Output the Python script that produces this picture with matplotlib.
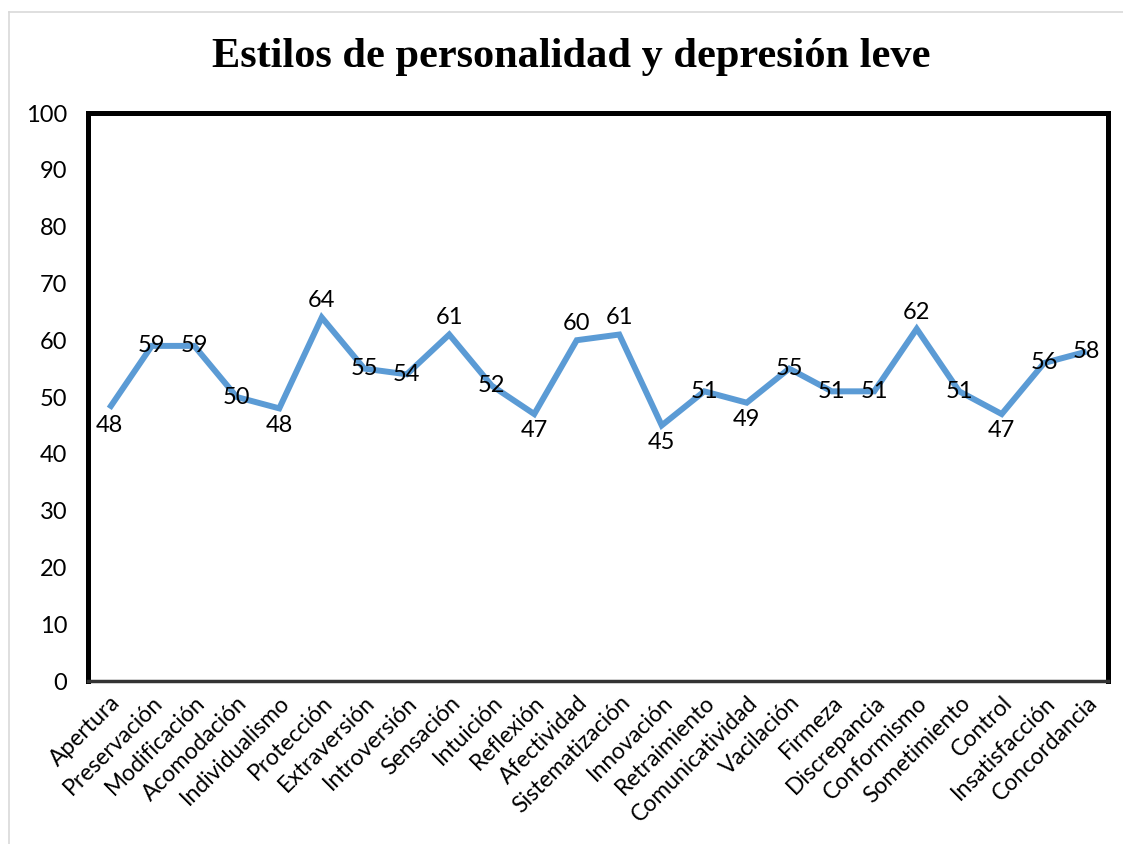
import matplotlib
matplotlib.use("Agg")
from matplotlib import pyplot as plt
from matplotlib.lines import Line2D

categorias = [
    "Apertura", "Preservación", "Modificación", "Acomodación", "Individualismo",
    "Protección", "Extraversión", "Introversión", "Sensación", "Intuición",
    "Reflexión", "Afectividad", "Sistematización", "Innovación", "Retraimiento",
    "Comunicatividad", "Vacilación", "Firmeza", "Discrepancia", "Conformismo",
    "Sometimiento", "Control", "Insatisfacción", "Concordancia",
]
valores = [48, 59, 59, 50, 48, 64, 55, 54, 61, 52, 47, 60, 61, 45, 51, 49,
           55, 51, 51, 62, 51, 47, 56, 58]
# where each data label sits: c = on the point, a = above, b = below
posicion = ["b", "c", "c", "c", "b", "a", "c", "c", "a", "c", "b", "a", "a",
            "b", "c", "b", "c", "c", "c", "a", "c", "b", "c", "c"]
y_ticks = list(range(0, 101, 10))

azul = "#5B9BD5"
fuente = ["Lato", "DejaVu Sans"]

fig = plt.figure(figsize=(11.23, 8.44), dpi=100)
ax = fig.add_axes([0.0784, 0.1931, 0.9082, 0.673])

x = list(range(len(categorias)))
ax.plot(x, valores, color=azul, linewidth=4.3, solid_joinstyle="miter",
        solid_capstyle="butt", zorder=3)

offsets = {"c": 0, "a": 12, "b": -12}
for xi, v, p in zip(x, valores, posicion):
    ax.annotate(str(v), xy=(xi, v), xytext=(0, offsets[p]),
                textcoords="offset points", ha="center", va="center",
                fontsize=17, family=fuente, color="black", zorder=4)

ax.set_xlim(-0.5, len(categorias) - 0.5)
ax.set_ylim(0, 100)
ax.set_yticks(y_ticks)
ax.set_yticklabels([str(t) for t in y_ticks], fontsize=17, family=fuente)
ax.set_xticks(x)
ax.set_xticklabels(categorias, rotation=45, ha="right", rotation_mode="anchor",
                   fontsize=16.5, family=fuente)
ax.tick_params(axis="y", length=0, pad=15)
ax.tick_params(axis="x", length=0, pad=8)

for lado in ["left", "top", "right"]:
    ax.spines[lado].set_linewidth(3.6)
    ax.spines[lado].set_color("black")
ax.spines["bottom"].set_linewidth(2.5)
ax.spines["bottom"].set_color("#333333")

fig.text(0.509, 0.932, "Estilos de personalidad y depresión leve",
         ha="center", va="center", fontsize=30.5, fontweight="bold",
         family="Liberation Serif")

# light grey frame of the chart area
fig.add_artist(Line2D([0.008, 1.0], [0.986, 0.986], color="#d9d9d9",
                      linewidth=1.2, transform=fig.transFigure))
fig.add_artist(Line2D([0.008, 0.008], [0.0, 0.986], color="#d9d9d9",
                      linewidth=1.2, transform=fig.transFigure))

fig.savefig("out.png", dpi=100, facecolor="white")
